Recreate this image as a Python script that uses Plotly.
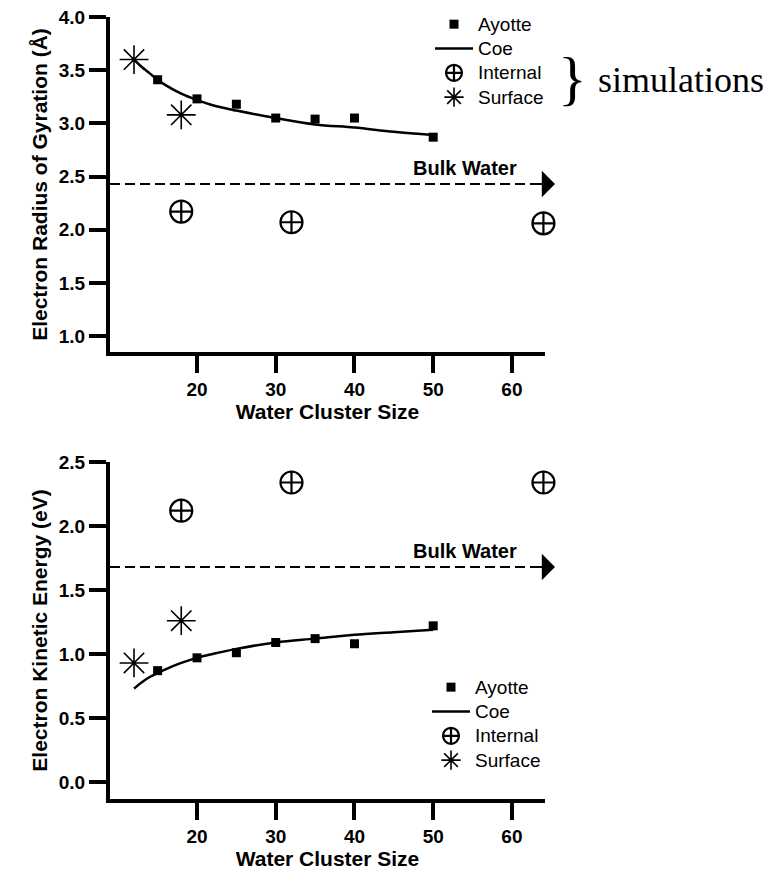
import plotly.graph_objects as go

# ---------------- data ----------------
# Top panel: electron radius of gyration (Å)
ayotte_n = [15, 20, 25, 30, 35, 40, 50]
ayotte_rg = [3.41, 3.23, 3.18, 3.05, 3.04, 3.05, 2.87]
coe_n = [12, 13, 14, 15, 16, 18, 20, 22, 25, 30, 35, 40, 45, 50]
coe_rg = [3.60, 3.53, 3.47, 3.41, 3.36, 3.28, 3.22, 3.17, 3.12, 3.05, 2.99, 2.96, 2.92, 2.89]
internal_n = [18, 32, 64]
internal_rg = [2.17, 2.07, 2.06]
surface_n = [12, 18]
surface_rg = [3.60, 3.08]
bulk_rg = 2.43

# Bottom panel: electron kinetic energy (eV)
ayotte_ke = [0.87, 0.97, 1.01, 1.09, 1.12, 1.08, 1.22]
coe_ke = [0.73, 0.78, 0.82, 0.85, 0.88, 0.93, 0.97, 1.00, 1.04, 1.09, 1.12, 1.15, 1.17, 1.19]
internal_ke = [2.12, 2.34, 2.34]
surface_ke = [0.93, 1.26]
bulk_ke = 1.68

x_range = [8.95, 64.2]
x_ticks = [20, 30, 40, 50, 60]
rg_ticks = [1.0, 1.5, 2.0, 2.5, 3.0, 3.5, 4.0]
ke_ticks = [0.0, 0.5, 1.0, 1.5, 2.0, 2.5]
legend_names = ["Ayotte", "Coe", "Internal", "Surface"]

# ---------------- figure ----------------
W, H = 775, 870
FONT = "Liberation Sans, Arial, sans-serif"
fig = go.Figure()


def lbl(name):
    return '<span style="font-size:19px">%s</span>' % name


def add_panel(xa, ya, legend, vals):
    ay, coe, inte, surf, bulk = vals
    fig.add_trace(go.Scatter(x=ayotte_n, y=ay, mode="markers", name=lbl(legend_names[0]),
                             marker=dict(symbol="square", size=9, color="black"),
                             xaxis=xa, yaxis=ya, legend=legend, cliponaxis=False))
    fig.add_trace(go.Scatter(x=coe_n, y=coe, mode="lines", name=lbl(legend_names[1]),
                             line=dict(color="black", width=2.5, shape="spline"),
                             xaxis=xa, yaxis=ya, legend=legend))
    fig.add_trace(go.Scatter(x=internal_n, y=inte, mode="markers", name=lbl(legend_names[2]),
                             marker=dict(symbol="circle-cross-open", size=22, color="black",
                                         line=dict(width=2.2, color="black")),
                             xaxis=xa, yaxis=ya, legend=legend, cliponaxis=False))
    fig.add_trace(go.Scatter(x=surface_n, y=surf, mode="markers", name=lbl(legend_names[3]),
                             marker=dict(symbol="asterisk-open", size=24, color="black",
                                         line=dict(width=1.6, color="black")),
                             xaxis=xa, yaxis=ya, legend=legend, cliponaxis=False))
    fig.add_trace(go.Scatter(x=x_range, y=[bulk, bulk], mode="lines", showlegend=False,
                             line=dict(color="black", width=2, dash="10px,5px"),
                             xaxis=xa, yaxis=ya, cliponaxis=False, hoverinfo="skip"))


add_panel("x", "y", "legend", (ayotte_rg, coe_rg, internal_rg, surface_rg, bulk_rg))
add_panel("x2", "y2", "legend2", (ayotte_ke, coe_ke, internal_ke, surface_ke, bulk_ke))

tickfont = dict(family=FONT, size=19, color="black", weight="bold")
titlefont = dict(family=FONT, size=21, color="black", weight="bold")
common_x = dict(range=x_range, tickvals=x_ticks, ticks="outside", ticklen=17, tickwidth=4,
                tickcolor="black", showline=True, linewidth=4, linecolor="black",
                showgrid=False, zeroline=False, tickfont=tickfont,
                title=dict(text="Water Cluster Size", font=titlefont, standoff=4))
common_y = dict(ticks="outside", ticklen=17, tickwidth=4, tickcolor="black",
                showline=True, linewidth=4, linecolor="black", showgrid=False,
                zeroline=False, tickfont=tickfont, tickformat=".1f")

dom_x = [110 / W, 545 / W]
top_dom = [1 - 352 / H, 1 - 17 / H]
bot_dom = [1 - 799 / H, 1 - 462 / H]

legend_common = dict(font=dict(family=FONT, size=16.4, color="black"), bgcolor="rgba(0,0,0,0)",
                     borderwidth=0, itemwidth=38, xanchor="left", yanchor="top",
                     tracegroupgap=0)

fig.update_layout(
    width=W, height=H, margin=dict(l=0, r=0, t=0, b=0, autoexpand=False),
    paper_bgcolor="white", plot_bgcolor="white",
    xaxis=dict(domain=dom_x, anchor="y", **common_x),
    yaxis=dict(domain=top_dom, anchor="x", range=[0.85, 4.0], tickvals=rg_ticks,
               title=dict(text="Electron Radius of Gyration (Å)", font=titlefont, standoff=6),
               **common_y),
    xaxis2=dict(domain=dom_x, anchor="y2", **common_x),
    yaxis2=dict(domain=bot_dom, anchor="x2", range=[-0.133, 2.5], tickvals=ke_ticks,
                title=dict(text="Electron Kinetic Energy (eV)", font=titlefont, standoff=6),
                **common_y),
    legend=dict(x=430 / W, y=1 - 7 / H, **legend_common),
    legend2=dict(x=427 / W, y=1 - 670 / H, **legend_common),
    showlegend=True,
)

label_font = dict(family=FONT, size=20, color="black", weight="bold")
annotations = []
for yref, bulk in (("y", bulk_rg), ("y2", bulk_ke)):
    # arrow head at the end of the bulk-water line
    annotations.append(dict(x=555 / W, xref="paper", y=bulk, yref=yref, text="",
                            showarrow=True, ax=-26, ay=0, arrowhead=1, arrowsize=2.2,
                            arrowwidth=2, arrowcolor="black", standoff=0))
    annotations.append(dict(x=465 / W, xref="paper", y=bulk, yref=yref,
                            text="Bulk Water", showarrow=False, yshift=16,
                            font=label_font, xanchor="center", yanchor="middle"))
annotations.append(dict(x=572 / W, y=1 - 78 / H, xref="paper", yref="paper", text="}",
                        showarrow=False, font=dict(family="Liberation Serif, Times New Roman, serif",
                                                   size=60, color="black"),
                        xanchor="center", yanchor="middle"))
annotations.append(dict(x=681 / W, y=1 - 80 / H, xref="paper", yref="paper", text="simulations",
                        showarrow=False, font=dict(family="Liberation Serif, Times New Roman, serif",
                                                   size=36, color="black"),
                        xanchor="center", yanchor="middle"))
fig.update_layout(annotations=annotations)

fig.write_html("out.html")
